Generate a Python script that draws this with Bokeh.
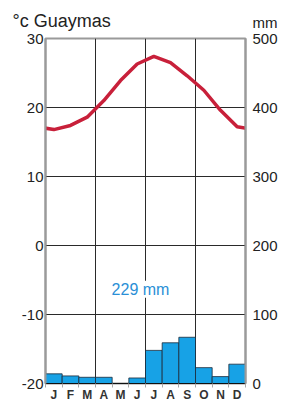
from bokeh.plotting import figure
from bokeh.models import Range1d, LinearAxis, FixedTicker, Label
from bokeh.embed import file_html
from bokeh.resources import INLINE

months = ["J", "F", "M", "A", "M", "J", "J", "A", "S", "O", "N", "D"]
temp_c = [16.8, 17.4, 18.6, 21.0, 23.9, 26.3, 27.4, 26.5, 24.6, 22.5, 19.6, 17.2]
precip_mm = [14, 11, 9, 9, 0, 8, 48, 59, 67, 23, 10, 28]
temp_ticks = [-20, -10, 0, 10, 20, 30]
mm_ticks = [0, 100, 200, 300, 400, 500]
station = "°c Guaymas"
total_label = "229 mm"
unit_label = "mm"

FONT = "Liberation Sans"
xs = list(range(1, 13))

p = figure(width=280, height=404, output_backend="svg", toolbar_location=None,
           x_range=Range1d(0.5, 12.5), y_range=Range1d(-20, 30),
           min_border_left=45, min_border_right=35, min_border_top=38,
           min_border_bottom=19)
p.extra_y_ranges = {"mm": Range1d(0, 500)}
p.background_fill_color = "white"
p.outline_line_color = "#9a9a9a"
p.outline_line_width = 2

p.title.text = station
p.title.align = "left"
p.title.offset = -33
p.title.text_font = FONT
p.title.text_font_size = "18px"
p.title.text_font_style = "normal"
p.title.text_color = "#222222"
p.title.standoff = 15

# precipitation bars
p.vbar(x=xs, top=precip_mm, bottom=0, width=1.0, y_range_name="mm",
       fill_color="#17a2e6", line_color="#1a2a3a", line_width=0.8)

# temperature curve (wrap with neighbouring months so it reaches frame edges)
tx = [0] + xs + [13]
ty = [temp_c[-1]] + temp_c + [temp_c[0]]
p.line(tx, ty, line_color="#c8203a", line_width=3.5, line_join="round")

# grids
p.ygrid.ticker = FixedTicker(ticks=temp_ticks)
p.ygrid.grid_line_color = "#2a2a2a"
p.ygrid.grid_line_width = 1
p.xgrid.ticker = FixedTicker(ticks=[3.5, 6.5, 9.5])
p.xgrid.grid_line_color = "#2a2a2a"
p.xgrid.grid_line_width = 1
p.ygrid.level = "underlay"
p.xgrid.level = "underlay"

# left axis
la = p.yaxis[0]
la.ticker = FixedTicker(ticks=temp_ticks)
la.major_label_overrides = {t: str(t) for t in temp_ticks}
la.major_tick_line_color = None
la.minor_tick_line_color = None
la.major_tick_out = 0
la.minor_tick_out = 0
la.axis_line_color = "#9a9a9a"
la.axis_line_width = 2
la.major_label_text_font = FONT
la.major_label_text_font_size = "15px"
la.major_label_text_color = "#222222"
la.major_label_standoff = 2

# right axis; the top label carries the unit line above it
ra = LinearAxis(y_range_name="mm", ticker=FixedTicker(ticks=mm_ticks))
ra.major_label_overrides = {t: str(t) for t in mm_ticks}
ra.major_label_overrides[mm_ticks[-1]] = unit_label + "\n" + str(mm_ticks[-1]) + "\n "
ra.major_tick_line_color = None
ra.minor_tick_line_color = None
ra.major_tick_out = 0
ra.minor_tick_out = 0
ra.axis_line_color = "#9a9a9a"
ra.axis_line_width = 2
ra.major_label_text_font = FONT
ra.major_label_text_font_size = "15px"
ra.major_label_text_line_height = 0.95
ra.major_label_text_color = "#222222"
ra.major_label_standoff = 7
p.add_layout(ra, "right")

# bottom axis
ba = p.xaxis[0]
ba.ticker = FixedTicker(ticks=xs, minor_ticks=[i + 0.5 for i in range(0, 13)])
ba.major_label_overrides = {i + 1: m for i, m in enumerate(months)}
ba.major_tick_line_color = None
ba.major_tick_out = 0
ba.minor_tick_out = 4
ba.minor_tick_in = 0
ba.minor_tick_line_color = "#aaaaaa"
ba.axis_line_color = "#111111"
ba.axis_line_width = 1
ba.major_label_text_font = FONT
ba.major_label_text_font_style = "bold"
ba.major_label_text_font_size = "12px"
ba.major_label_text_color = "#333333"
ba.major_label_standoff = 0

p.add_layout(Label(x=6.2, y=-6.35, text=total_label,
                   text_font=FONT, text_font_size="16px", text_color="#2a8fd6",
                   text_baseline="middle", text_align="center",
                   background_fill_color="white"))

open("out.html", "w").write(file_html(p, INLINE))
